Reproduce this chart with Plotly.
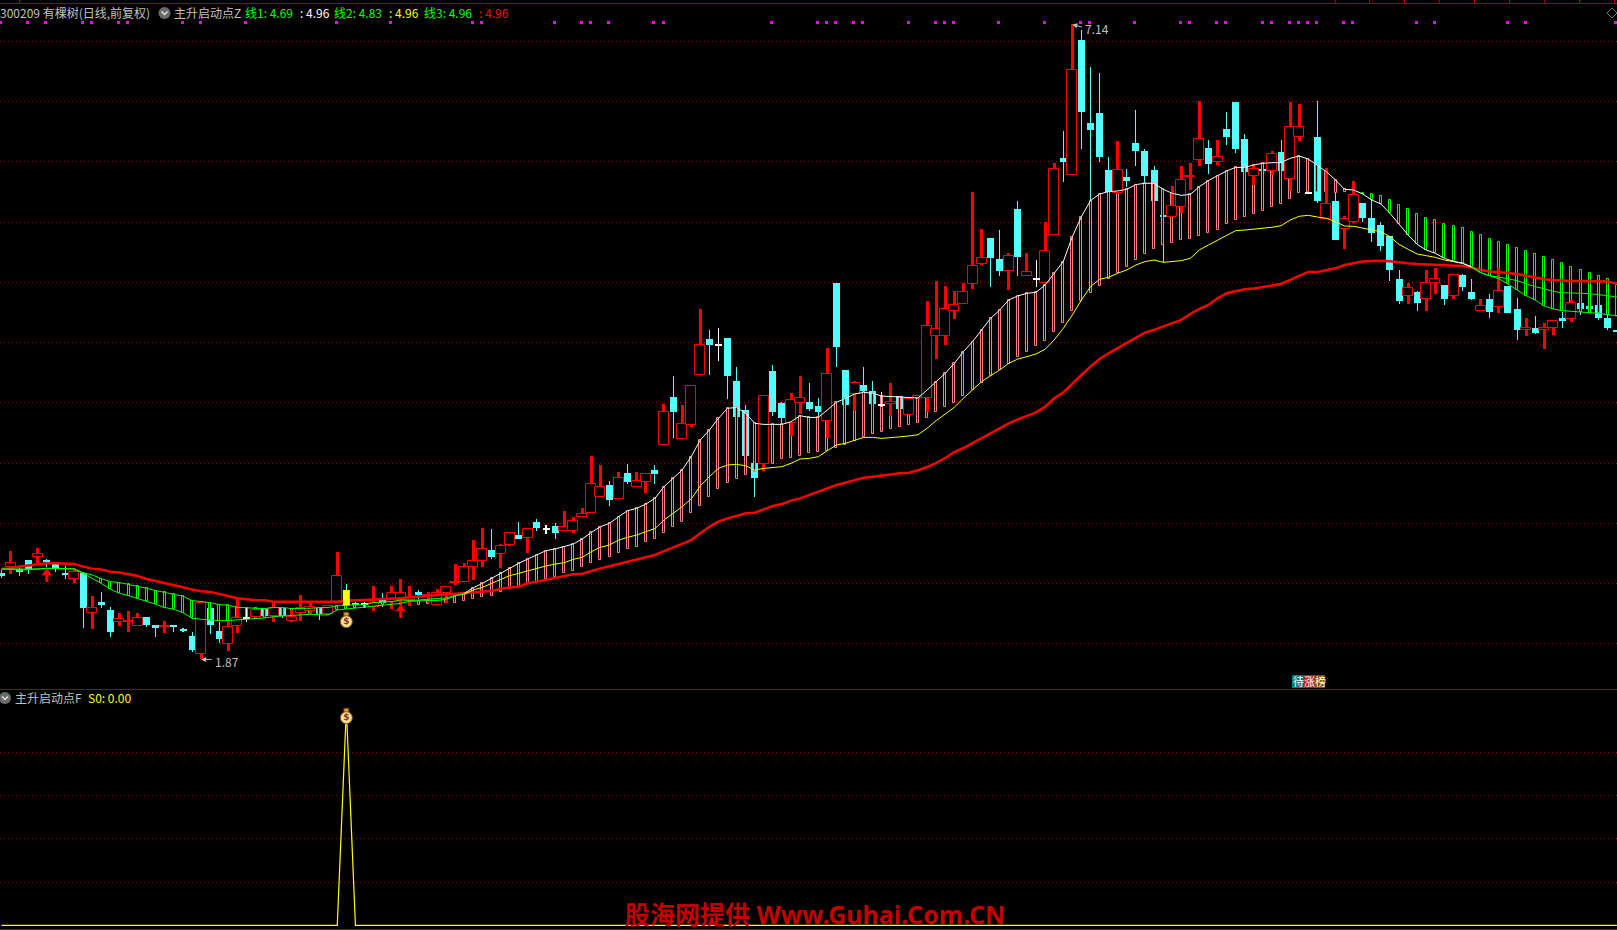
import plotly.graph_objects as go

high = [2.613,2.771,2.635,2.696,2.793,2.702,2.668,2.646,2.627,2.599,
2.397,2.433,2.306,2.253,2.273,2.253,2.223,2.157,2.190,2.148,
2.135,2.099,2.359,2.337,2.184,2.198,2.378,2.303,2.287,2.301,
2.350,2.303,2.281,2.406,2.342,2.309,2.317,2.762,2.497,2.350,
2.350,2.480,2.419,2.480,2.536,2.480,2.447,2.433,2.453,2.469,
2.662,2.668,2.861,2.961,2.953,2.828,2.925,3.008,2.961,3.036,
2.983,3.000,3.099,3.050,3.127,3.558,3.484,3.351,3.426,3.492,
3.426,3.406,3.484,3.990,4.222,3.982,4.142,4.778,4.601,4.621,
4.538,4.294,3.982,3.500,4.054,4.314,4.007,4.081,4.222,4.164,
4.040,4.452,4.994,4.272,4.181,4.294,4.181,4.087,4.164,4.056,
4.037,4.053,4.845,5.011,4.970,4.928,4.997,5.750,5.443,5.368,
5.434,5.241,5.675,5.243,5.185,5.501,5.990,6.256,7.140,7.094,
6.787,6.737,6.040,6.173,5.941,6.430,6.107,5.966,5.559,5.800,
5.966,5.990,6.505,6.181,6.181,6.414,6.497,6.231,5.974,5.941,
6.087,6.181,6.497,6.480,5.752,6.505,5.946,5.739,5.550,5.841,
5.658,5.689,5.501,5.385,5.102,4.992,4.928,5.102,5.119,4.978,
5.066,5.069,5.028,4.862,4.903,5.119,4.970,4.870,4.704,4.721,
4.663,4.676,4.754,4.853,4.826,4.804,4.812,4.737,4.604]

low = [2.549,2.583,2.563,2.580,2.668,2.641,2.599,2.538,2.502,2.135,
2.124,2.298,2.060,2.151,2.101,2.148,2.143,2.060,2.093,2.101,
2.101,1.933,1.870,2.082,2.010,1.944,2.093,2.184,2.204,2.220,
2.184,2.212,2.184,2.193,2.240,2.198,2.240,2.337,2.295,2.295,
2.295,2.273,2.303,2.289,2.325,2.314,2.372,2.336,2.325,2.342,
2.488,2.516,2.530,2.640,2.701,2.632,2.814,2.870,2.756,2.939,
2.914,2.870,2.933,2.922,3.050,3.083,3.216,3.146,3.199,3.326,
3.299,3.254,3.326,3.647,3.711,3.697,3.796,4.228,4.233,4.350,
4.032,3.885,3.561,3.221,3.437,3.890,3.830,3.727,3.907,3.935,
3.885,3.711,4.300,3.982,3.935,4.098,3.990,3.968,3.890,3.949,
3.896,4.039,3.922,4.364,4.480,4.696,4.823,4.945,5.144,4.961,
5.053,4.936,5.053,5.055,4.961,4.997,5.396,5.833,5.893,6.106,
5.669,5.999,5.750,5.730,5.791,5.966,5.822,5.675,5.166,5.545,
5.576,5.766,5.968,5.899,5.974,6.140,6.073,5.916,5.808,5.924,
5.891,5.924,5.758,6.173,5.739,5.656,5.523,5.351,5.277,5.490,
5.501,5.335,5.260,5.011,4.820,4.820,4.762,4.762,4.903,4.812,
4.862,4.928,4.853,4.759,4.704,4.746,4.746,4.521,4.555,4.571,
4.447,4.560,4.621,4.671,4.729,4.771,4.687,4.604,4.588]

open_ = [2.591,2.641,2.621,2.696,2.724,2.696,2.660,2.585,2.538,2.585,
2.253,2.350,2.281,2.179,2.182,2.151,2.223,2.157,2.137,2.148,
2.121,2.065,1.913,2.295,2.107,1.996,2.151,2.212,2.226,2.290,
2.234,2.300,2.190,2.253,2.273,2.300,2.245,2.342,2.447,2.336,
2.325,2.309,2.364,2.350,2.364,2.364,2.428,2.395,2.325,2.425,
2.505,2.516,2.635,2.690,2.779,2.743,2.817,2.903,2.875,3.014,
2.950,2.978,2.933,2.933,3.055,3.083,3.216,3.315,3.199,3.417,
3.299,3.340,3.442,3.653,4.048,3.697,3.819,4.228,4.527,4.477,
4.538,4.181,3.940,3.500,3.489,4.264,3.998,3.830,3.996,4.007,
3.973,3.846,4.994,4.272,4.076,4.148,4.095,3.979,3.987,4.056,
3.902,4.039,4.038,4.552,4.558,4.765,4.823,4.989,5.155,5.368,
5.194,5.097,5.609,5.055,5.025,4.997,5.396,6.032,5.893,7.011,
6.322,6.405,5.932,5.739,5.874,6.156,6.090,5.932,5.559,5.545,
5.623,5.871,6.013,6.115,5.996,6.273,6.497,6.190,5.880,5.941,
5.921,6.082,5.860,6.203,5.741,6.206,5.523,5.675,5.445,5.503,
5.658,5.534,5.476,5.385,5.028,4.889,4.920,4.859,4.997,4.978,
4.889,5.061,4.920,4.759,4.862,4.795,4.970,4.779,4.602,4.621,
4.602,4.618,4.704,4.698,4.826,4.804,4.812,4.704,4.604]

close = [2.566,2.668,2.599,2.619,2.746,2.682,2.632,2.572,2.594,2.301,
2.295,2.323,2.101,2.204,2.193,2.218,2.157,2.135,2.148,2.140,
2.104,1.949,2.337,2.157,2.041,2.143,2.218,2.220,2.278,2.234,
2.295,2.231,2.223,2.300,2.303,2.245,2.317,2.561,2.317,2.323,
2.334,2.342,2.336,2.419,2.419,2.378,2.406,2.406,2.419,2.469,
2.516,2.635,2.690,2.784,2.723,2.814,2.917,2.870,2.950,2.964,
2.956,2.923,2.972,3.022,3.074,3.323,3.304,3.193,3.373,3.345,
3.348,3.406,3.409,3.921,3.926,3.827,4.142,4.477,4.482,4.482,
4.222,3.885,3.561,3.379,4.054,3.926,3.874,4.020,4.037,3.946,
3.924,4.236,4.466,3.982,4.167,4.098,3.990,3.984,4.004,3.949,
4.029,4.053,4.638,4.610,4.779,4.809,4.917,5.133,5.199,5.202,
5.094,5.216,5.210,5.083,5.030,5.257,5.938,5.999,6.759,6.414,
6.264,6.040,5.750,5.930,5.841,6.090,5.883,5.675,5.542,5.631,
5.847,5.882,6.187,5.982,6.037,6.206,6.107,5.916,5.938,5.924,
6.062,5.924,6.286,6.286,5.747,5.675,5.647,5.351,5.523,5.722,
5.534,5.409,5.301,5.102,4.845,4.950,4.829,4.992,5.025,4.862,
5.058,4.961,4.862,4.801,4.754,4.925,4.746,4.604,4.618,4.580,
4.618,4.676,4.679,4.826,4.779,4.779,4.704,4.621,4.588]

fast = [2.621,2.619,2.610,2.616,2.621,2.627,2.627,2.624,2.621,2.585,
2.544,2.502,2.453,2.419,2.400,2.378,2.356,2.328,2.301,2.287,
2.259,2.212,2.204,2.198,2.193,2.193,2.198,2.206,2.209,2.215,
2.226,2.231,2.231,2.240,2.245,2.240,2.240,2.281,2.289,2.295,
2.301,2.314,2.320,2.325,2.336,2.353,2.359,2.359,2.359,2.370,
2.397,2.419,2.466,2.502,2.543,2.590,2.632,2.668,2.704,2.737,
2.773,2.787,2.806,2.828,2.870,2.925,2.972,3.000,3.055,3.105,
3.124,3.160,3.207,3.304,3.373,3.442,3.553,3.691,3.774,3.871,
3.954,3.962,3.913,3.830,3.821,3.821,3.821,3.843,3.893,3.879,
3.879,3.940,4.004,4.037,4.073,4.087,4.079,4.056,4.051,4.051,
4.043,4.040,4.107,4.176,4.245,4.328,4.425,4.508,4.605,4.701,
4.771,4.854,4.887,4.909,4.917,4.978,5.075,5.172,5.379,5.545,
5.678,5.733,5.753,5.758,5.772,5.811,5.822,5.822,5.772,5.739,
5.722,5.730,5.794,5.844,5.885,5.924,5.954,5.954,5.974,5.988,
5.993,5.993,6.029,6.048,6.023,5.974,5.918,5.849,5.772,5.766,
5.733,5.683,5.650,5.573,5.484,5.393,5.315,5.268,5.241,5.199,
5.174,5.158,5.124,5.080,5.053,5.030,4.986,4.936,4.889,4.853,
4.804,4.779,4.765,4.759,4.754,4.748,4.743,4.732,4.721]

mid = [2.621,2.621,2.616,2.619,2.621,2.624,2.624,2.624,2.621,2.591,
2.572,2.541,2.516,2.508,2.494,2.480,2.461,2.442,2.428,2.411,
2.395,2.359,2.350,2.342,2.325,2.320,2.303,2.301,2.295,2.292,
2.301,2.301,2.292,2.292,2.295,2.301,2.301,2.314,2.323,2.323,
2.325,2.342,2.345,2.350,2.364,2.359,2.364,2.370,2.370,2.381,
2.400,2.411,2.447,2.469,2.502,2.535,2.566,2.585,2.607,2.624,
2.646,2.662,2.673,2.701,2.718,2.765,2.801,2.820,2.861,2.884,
2.903,2.931,2.956,3.027,3.083,3.138,3.202,3.310,3.387,3.456,
3.484,3.489,3.478,3.442,3.456,3.464,3.470,3.498,3.534,3.539,
3.553,3.603,3.650,3.664,3.686,3.713,3.713,3.705,3.711,3.716,
3.725,3.735,3.789,3.852,3.908,3.963,4.038,4.107,4.176,4.226,
4.273,4.328,4.364,4.383,4.406,4.444,4.522,4.618,4.729,4.854,
4.964,5.025,5.042,5.075,5.103,5.144,5.172,5.185,5.166,5.172,
5.180,5.199,5.269,5.310,5.352,5.393,5.429,5.434,5.440,5.445,
5.457,5.470,5.517,5.548,5.556,5.542,5.531,5.503,5.467,5.465,
5.451,5.440,5.420,5.379,5.315,5.274,5.235,5.221,5.207,5.185,
5.169,5.158,5.130,5.080,5.055,5.044,5.030,5.014,4.986,4.964,
4.947,4.925,4.914,4.909,4.909,4.906,4.900,4.889,4.878]

slow = [2.621,2.627,2.641,2.649,2.663,2.668,2.668,2.666,2.663,2.641,
2.624,2.616,2.599,2.591,2.580,2.563,2.538,2.522,2.502,2.489,
2.469,2.450,2.436,2.431,2.414,2.397,2.378,2.370,2.361,2.361,
2.350,2.350,2.350,2.350,2.350,2.350,2.350,2.350,2.359,2.364,
2.364,2.367,2.370,2.378,2.378,2.386,2.392,2.397,2.400,2.408,
2.413,2.422,2.427,2.433,2.438,2.455,2.469,2.474,2.502,2.516,
2.530,2.549,2.563,2.577,2.582,2.607,2.626,2.643,2.662,2.682,
2.704,2.723,2.737,2.770,2.801,2.828,2.861,2.917,2.972,3.014,
3.041,3.061,3.083,3.088,3.116,3.144,3.160,3.188,3.207,3.235,
3.257,3.285,3.318,3.337,3.359,3.379,3.387,3.398,3.406,3.415,
3.420,3.440,3.467,3.501,3.542,3.592,3.625,3.667,3.706,3.747,
3.789,3.830,3.863,3.891,3.921,3.968,4.038,4.085,4.162,4.231,
4.300,4.364,4.411,4.452,4.494,4.535,4.582,4.605,4.632,4.660,
4.688,4.737,4.779,4.812,4.867,4.909,4.928,4.942,4.948,4.959,
4.973,4.986,5.020,5.055,5.086,5.086,5.102,5.116,5.144,5.158,
5.172,5.177,5.180,5.174,5.163,5.158,5.152,5.149,5.144,5.141,
5.138,5.136,5.122,5.102,5.089,5.080,5.077,5.069,5.053,5.036,
5.025,5.019,5.014,5.011,5.011,5.011,5.011,5.006,4.989]

pink_far = [2.323,2.331,2.331,2.342,2.342,2.359,2.369,2.391,2.400,2.427,
2.455,2.474,2.502,2.516,2.541,2.557,2.585,2.607,2.635,2.668,
2.693,2.723,2.756,2.784,2.806,2.842,2.867,2.922,2.972,3.014,
3.083,3.146,3.216,3.282,3.332,3.368,3.401,3.423,3.456,3.489,
3.534,3.539,3.561,3.581,3.589,3.603,3.628,3.647,3.686,3.713,
3.744,3.760,3.783,3.802,3.819,3.833,3.877,3.927,3.968,4.002,
4.060,4.107,4.162,4.223,4.273,4.323,4.383,4.425,4.475,4.516,
4.591,4.666,4.765,4.848,4.914,4.973,5.025,5.075,5.130,5.185,
5.238,5.274,5.313,5.329,5.354,5.362,5.387,5.412,5.434,5.487,
5.520,5.545,5.570,5.595,5.628,5.653,5.694,5.739,5.747,5.752,
5.752,5.744,5.747]

green_far = [5.739,5.730,5.716,5.683,5.639,5.606,5.567,5.531,5.517,5.481,
5.467,5.448,5.415,5.390,5.357,5.332,5.307,5.282,5.257,5.232,
5.207,5.183,5.158,5.127,5.100,5.077,5.050,5.025,4.978]

band_far = [None]*11 + mid[11:45] + [None] + pink_far + [None] + green_far

s0_line = [0.0]*179
s0_line[38] = 100.0

white_doji = [27, 40, 60, 79, 97, 114, 144]
signal_bar = 38
pink_dots = [0,3,5,9,10,13,14,20,22,27,37,43,52,53,61,64,65,67,72,73,85,90,91,92,94,95,100,
             103,104,105,110,115,119,120,125,130,131,134,135,139,140,142,143,144,145,148,149,
             156,158,166,168,178]
dot_top = 7.170
dot_bottom = 7.146
up_arrow_bars = [5, 44]
up_arrow_tip = [2.580, 2.281]
up_arrow_tail = [2.513, 2.214]
bag_price = 2.184
bag_s0 = 96.0
price_ticks = [2.0,2.5,3.0,3.5,4.0,4.5,5.0,5.5,6.0,6.5,7.0]
s0_ticks = [20,40,60,80]

W, H = 1617, 930
BAR_PX = 9.075
CYAN = "#54FFFF"; RED = "#FF0000"; PINK = "#FF8080"; GREEN = "#00FF00"
GRID = "#A80000"; GREY = "#C0C0C0"

n = len(high)
xs = list(range(n))
rows_red = [i for i in xs if close[i] >= open_[i] and i not in white_doji]
rows_cyan = [i for i in xs if close[i] < open_[i] and i != signal_bar]


def bar(idx, lo, hi, width_px, color, line=None, line_w=0):
    return go.Bar(x=idx, base=lo, y=[b - a for a, b in zip(lo, hi)],
                  width=width_px / BAR_PX,
                  marker=dict(color=color, line=dict(color=line or color, width=line_w)),
                  hoverinfo="skip", showlegend=False)


traces = []
# top row of pink day marks
traces.append(bar([i - 0.1 for i in pink_dots], [dot_bottom] * len(pink_dots), [dot_top] * len(pink_dots), 3, "#FF00FF"))
# down candles (below the band bars)
wick_c = rows_cyan + [signal_bar]
traces.append(bar(wick_c, [low[i] for i in wick_c], [high[i] for i in wick_c], 0.05, CYAN))
traces.append(bar(rows_cyan, [close[i] for i in rows_cyan], [open_[i] for i in rows_cyan], 7, CYAN))
# band bars
pink_idx = [i for i in xs if band_far[i] is not None and band_far[i] < fast[i]]
green_idx = [i for i in xs if band_far[i] is not None and band_far[i] >= fast[i]]
traces.append(bar(pink_idx, [band_far[i] for i in pink_idx], [fast[i] for i in pink_idx], 2, "#000000", PINK, 1))
traces.append(bar(green_idx, [fast[i] for i in green_idx], [band_far[i] for i in green_idx], 2, "#000000", GREEN, 1))
# up candles
traces.append(bar(rows_red, [low[i] for i in rows_red], [high[i] for i in rows_red], 3, RED))
traces.append(bar(rows_red, [open_[i] for i in rows_red], [close[i] for i in rows_red], 10, "#000000", RED, 1))
# white dojis
traces.append(bar(white_doji, [low[i] for i in white_doji], [high[i] for i in white_doji], 0.05, "#FFFFFF"))
traces.append(bar(white_doji, [open_[i] for i in white_doji], [close[i] for i in white_doji], 7, "#FFFFFF"))


def line(i0, i1, values, color, width):
    return go.Scatter(x=xs[i0:i1 + 1], y=values[i0:i1 + 1], mode="lines",
                      line=dict(color=color, width=width), hoverinfo="skip", showlegend=False)


traces.append(line(0, 178, slow, RED, 2.5))
traces.append(line(0, 51, mid, GREEN, 1))
traces.append(line(51, 162, mid, "#FFFF00", 1))
traces.append(line(162, 178, mid, GREEN, 1))
traces.append(line(0, 51, fast, GREEN, 1))
traces.append(line(51, 162, fast, "#FFFFFF", 1))
traces.append(line(162, 178, fast, GREEN, 1))
# the signal candle sits on top of the moving averages
traces.append(go.Scatter(x=[signal_bar, signal_bar], y=[close[signal_bar], open_[signal_bar]], mode="lines",
                         line=dict(color="#FFFF00", width=7), hoverinfo="skip", showlegend=False))

for b, tip, tail in zip(up_arrow_bars, up_arrow_tip, up_arrow_tail):
    traces.append(go.Scatter(x=[b, b], y=[tip, tail], mode="lines", line=dict(color=RED, width=3),
                             hoverinfo="skip", showlegend=False))
    traces.append(go.Scatter(x=[b], y=[tip + 0.01], mode="markers",
                             marker=dict(symbol="triangle-up", size=9, color=RED),
                             hoverinfo="skip", showlegend=False))


def bag(y, axis):
    return [
        go.Scatter(x=[signal_bar], y=[y + (0.058 if axis == "y" else 3.2)], mode="markers", yaxis=axis,
                   marker=dict(symbol="square", size=5, color="#E0A030", line=dict(color="#6B4010", width=1)),
                   hoverinfo="skip", showlegend=False),
        go.Scatter(x=[signal_bar], y=[y], mode="markers+text", yaxis=axis, text=["$"],
                   textposition="middle center",
                   textfont=dict(size=9, color="#8A3030", family="DejaVu Sans", weight="bold"),
                   marker=dict(symbol="circle", size=12, color="#F8E08A", line=dict(color="#7A5020", width=1)),
                   hoverinfo="skip", showlegend=False),
    ]


traces += bag(bag_price, "y")
traces.append(go.Scatter(x=xs, y=s0_line, mode="lines", yaxis="y2", line=dict(color="#FFFF00", width=1.2),
                         hoverinfo="skip", showlegend=False))
traces += bag(bag_s0, "y2")

fig = go.Figure(traces)

FONT = "Noto Sans CJK SC, DejaVu Sans, sans-serif"


def label(x, y, text, color, size=12, family=FONT, weight=None, bg=None):
    font = dict(color=color, size=size, family=family)
    if weight:
        font["weight"] = weight
    fig.add_annotation(xref="paper", yref="paper", x=x / W, y=1 - y / H, text=text, showarrow=False,
                       xanchor="left", yanchor="middle", font=font, borderpad=0, bgcolor=bg)


label(-1, 12, "300209 有棵树(日线,前复权)", GREY)
label(173, 12, "主升启动点Z", GREY)
label(244, 12, "线1: 4.69", GREEN)
label(299, 12, ": 4.96", "#FFFFFF")
label(333, 12, "线2: 4.83", GREEN)
label(388, 12, ": 4.96", "#FFFF00")
label(423, 12, "线3: 4.96", GREEN)
label(478, 12, ": 4.96", RED)
label(14, 697, "主升启动点F", GREY)
label(87, 697, "S0: 0.00", "#FFFF00")
label(1084, 29, "7.14", GREY)
label(214, 661, "1.87", GREY)
label(624, 914, "股海网提供 Www.Guhai.Com.CN", "#C40000", size=25,
      family="Noto Sans, Noto Sans CJK SC", weight="bold")
for left, ch, col in [(1292, "待", "#008080"), (1303, "涨", "#B02020"), (1314, "榜", "#8B4A00")]:
    fig.add_shape(type="rect", xref="paper", yref="paper", x0=left / W, x1=(left + 11) / W,
                  y0=1 - 688 / H, y1=1 - 675 / H, fillcolor=col, line_width=0)
    label(left, 681, ch, "#FFFFFF", size=11)

fig.add_annotation(x=118, y=7.14, ax=11, ay=3, text="", showarrow=True, arrowhead=2, arrowsize=1,
                   arrowwidth=1, arrowcolor=GREY)
fig.add_annotation(x=22, y=1.87, ax=12, ay=0, text="", showarrow=True, arrowhead=2, arrowsize=1,
                   arrowwidth=1, arrowcolor=GREY)


def rule(x0, y0, x1, y1, color=GRID, width=1):
    fig.add_shape(type="line", xref="paper", yref="paper", x0=x0 / W, x1=x1 / W, y0=1 - y0 / H, y1=1 - y1 / H,
                  line=dict(color=color, width=width), layer="above")


rule(0, 3.5, W, 3.5)
rule(0, 689.5, W, 689.5)
rule(0, 929.5, W, 929.5)
for tx in [19.5, 1335.5, 1369.5, 1404.5, 1439.5, 1474.5, 1509.5, 1544.5, 1579.5, 1614.5]:
    rule(tx, 0, tx, 3)

for cx, cy in [(164.5, 13), (5, 698)]:
    fig.add_shape(type="circle", xref="paper", yref="paper", x0=(cx - 6) / W, x1=(cx + 6) / W,
                  y0=1 - (cy + 6) / H, y1=1 - (cy - 6) / H, fillcolor="#6A6A6A", line_width=0)
    fig.add_shape(type="path", xref="paper", yref="paper",
                  path=f"M {(cx - 3) / W} {1 - (cy - 1.5) / H} L {cx / W} {1 - (cy + 1.5) / H} L {(cx + 3) / W} {1 - (cy - 1.5) / H}",
                  line=dict(color="#E0E0E0", width=1.5))
fig.add_shape(type="path", xref="paper", yref="paper",
              path=f"M {1607 / W} {1 - 13 / H} L {1612 / W} {1 - 8 / H} L {1617 / W} {1 - 13 / H} L {1612 / W} {1 - 18 / H} Z",
              line=dict(color="#707070", width=1))

fig.update_layout(
    width=W, height=H, margin=dict(l=0, r=0, t=0, b=0),
    paper_bgcolor="#000000", plot_bgcolor="#000000",
    barmode="overlay", bargap=0, showlegend=False, hovermode=False,
    xaxis=dict(range=[-0.1653, 178.017], visible=False, fixedrange=True),
    yaxis=dict(domain=[1 - 689 / H, 1], range=[1.625, 7.343], tickvals=price_ticks, showticklabels=False,
               ticks="", zeroline=False, showline=False, showgrid=True, gridcolor=GRID, griddash="1px,3px",
               gridwidth=1, fixedrange=True),
    yaxis2=dict(domain=[0, 1 - 690 / H], range=[-2.17, 108.8], tickvals=s0_ticks, showticklabels=False,
                ticks="", zeroline=False, showline=False, showgrid=True, gridcolor=GRID, griddash="1px,3px",
                gridwidth=1, fixedrange=True),
)

fig.write_html("out.html", config={"displayModeBar": False},
               post_script="document.body.style.margin='0';document.body.style.background='#000';"
                           "document.body.style.overflow='hidden';")
